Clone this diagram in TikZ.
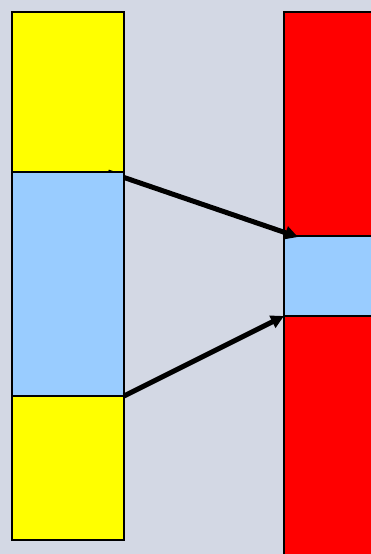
\documentclass[tikz,border=0pt]{standalone}
\usetikzlibrary{arrows.meta}
\definecolor{bg}{RGB}{211,216,228}
\definecolor{lblue}{RGB}{153,204,255}
\definecolor{yel}{RGB}{255,255,0}
\definecolor{rd}{RGB}{255,0,0}
\begin{document}
\begin{tikzpicture}[x=1pt,y=-1pt,
  box/.style={draw=black,line width=1.6pt,inner sep=0pt,outer sep=0pt,anchor=north west},
  conn/.style={line width=5pt,-{Triangle[length=13pt,width=13pt]}}]
\fill[bg] (0,0) rectangle (371,554);
\useasboundingbox (0,0) rectangle (371,554);
% left column
\node[box,fill=yel,minimum width=112pt,minimum height=160pt] (y1) at (12,12) {};
\node[box,fill=yel,minimum width=112pt,minimum height=144pt] (y2) at (12,396) {};
% right column
\node[box,fill=rd,minimum width=100pt,minimum height=560pt] (r1) at (284,12) {};
\node[box,fill=lblue,minimum width=100pt,minimum height=80pt] (b2) at (284,236) {};
% connectors
\coordinate (s1) at (108,172);
\coordinate (e1) at (298,237);
\draw[conn] (s1) -- (e1);
\node[box,fill=lblue,minimum width=112pt,minimum height=224pt] (b1) at (12,172) {};
\draw[conn] (b1.south east) -- (b2.south west);
\end{tikzpicture}
\end{document}
